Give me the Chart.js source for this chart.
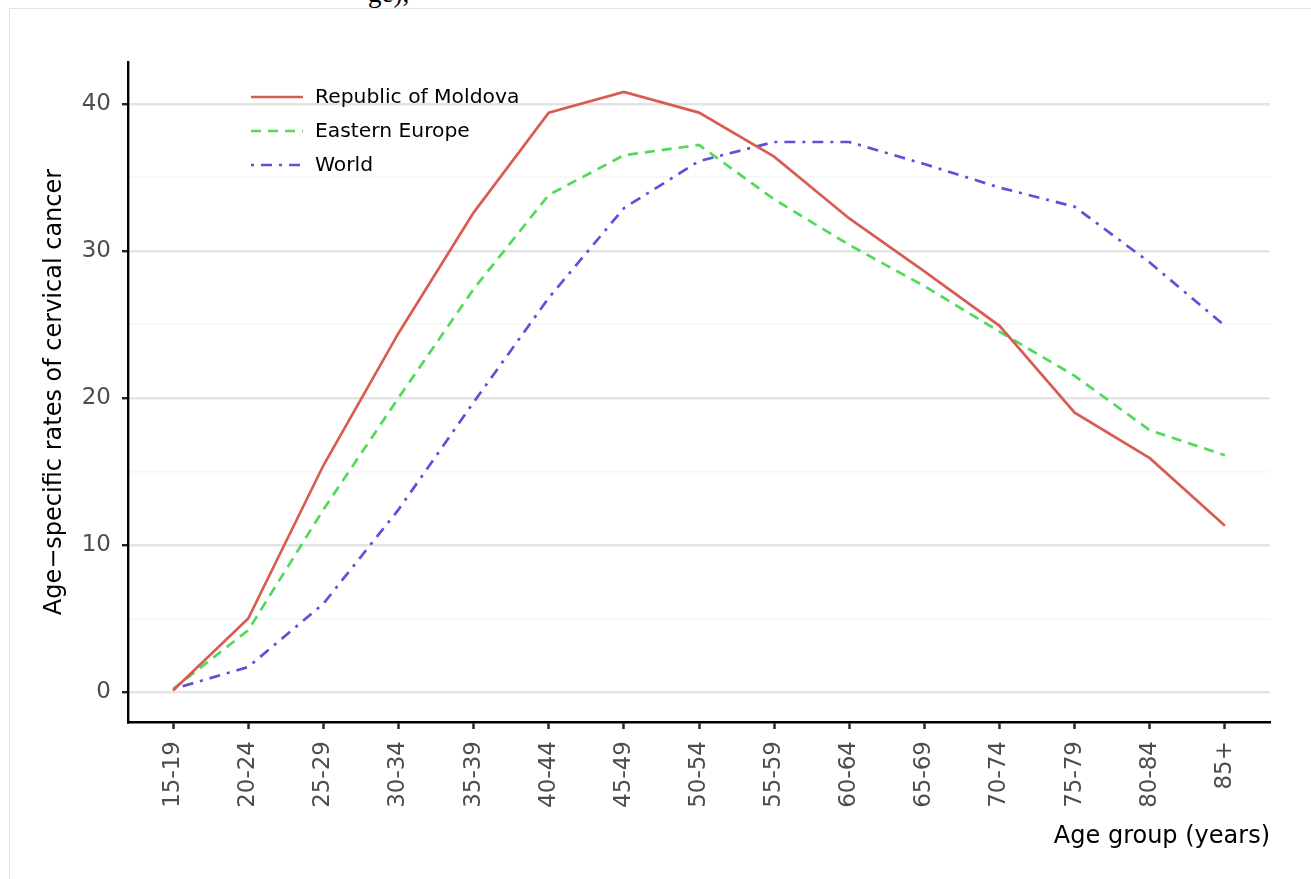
<!DOCTYPE html>
<html>
<head>
<meta charset="utf-8">
<script src="https://cdn.jsdelivr.net/npm/chart.js@4.4.1/dist/chart.umd.min.js"></script>
<style>
  html, body { margin: 0; padding: 0; background: #fff; overflow: hidden; }
  #wrap { position: relative; width: 1311px; height: 879px; overflow: hidden; }
  #frame { position: absolute; left: 9px; top: 8px; width: 1400px; height: 1000px; border: 1px solid #e2e2e2; box-sizing: border-box; }
  #cut { position: absolute; left: 368px; top: -22px; font: 27px "Liberation Serif", serif; color: #000; }
  canvas { position: absolute; left: 0; top: 0; }
</style>
</head>
<body>
<div id="wrap">
  <div id="cut">ge),</div>
  <div id="frame"></div>
  <canvas id="c" width="1311" height="879"></canvas>
</div>
<script>
const categories = ["15-19","20-24","25-29","30-34","35-39","40-44","45-49","50-54","55-59","60-64","65-69","70-74","75-79","80-84","85+"];
const moldova = [0.1, 5.0, 15.4, 24.4, 32.6, 39.4, 40.8, 39.4, 36.4, 32.2, 28.6, 24.9, 19.0, 15.9, 11.3];
const easternEurope = [0.2, 4.2, 12.4, 20.0, 27.4, 33.8, 36.5, 37.2, 33.5, 30.4, 27.6, 24.5, 21.5, 17.8, 16.1];
const world = [0.2, 1.7, 6.0, 12.4, 19.7, 26.8, 32.9, 36.1, 37.4, 37.4, 35.9, 34.3, 33.0, 29.2, 24.9];
const seriesNames = ["Republic of Moldova", "Eastern Europe", "World"];
const yMajorTicks = [0, 10, 20, 30, 40];
const yMinorTicks = [5, 15, 25, 35];

const toXY = arr => arr.map((v, i) => ({ x: i, y: v }));
const FONT = "'DejaVu Sans', sans-serif";

const legendPlugin = {
  id: 'lineLegend',
  afterDatasetsDraw(chart) {
    const ctx = chart.ctx;
    ctx.save();
    chart.data.datasets.forEach((ds, i) => {
      const y = 97 + 34 * i;
      ctx.strokeStyle = ds.borderColor;
      ctx.lineWidth = ds.borderWidth;
      ctx.setLineDash(ds.borderDash || []);
      ctx.beginPath();
      ctx.moveTo(251, y);
      ctx.lineTo(303, y);
      ctx.stroke();
      ctx.setLineDash([]);
      ctx.fillStyle = '#000';
      ctx.font = "20.3px " + FONT;
      ctx.textBaseline = 'middle';
      ctx.textAlign = 'left';
      ctx.fillText(ds.label, 315, y + 1);
    });
    ctx.restore();
  }
};

new Chart(document.getElementById('c'), {
  type: 'line',
  data: {
    datasets: [
      { label: seriesNames[0], data: toXY(moldova), borderColor: '#d95c51', borderWidth: 2.7, borderDash: [], pointRadius: 0, tension: 0 },
      { label: seriesNames[1], data: toXY(easternEurope), borderColor: '#52d95a', borderWidth: 2.7, borderDash: [10, 7], pointRadius: 0, tension: 0 },
      { label: seriesNames[2], data: toXY(world), borderColor: '#5b52d9', borderWidth: 2.7, borderDash: [3, 7, 11, 7], pointRadius: 0, tension: 0 }
    ]
  },
  options: {
    responsive: false,
    animation: false,
    devicePixelRatio: 1,
    layout: { padding: { top: 62, right: 41, left: 0, bottom: 0 } },
    plugins: { legend: { display: false }, tooltip: { enabled: false } },
    scales: {
      x: {
        type: 'linear',
        min: -0.6,
        max: categories.length - 1 + 0.6,
        afterBuildTicks: s => { s.ticks = categories.map((c, i) => ({ value: i })); },
        afterFit: s => { s.height = 879 - 722; },
        ticks: {
          callback: v => categories[v],
          autoSkip: false,
          maxRotation: 90,
          minRotation: 90,
          padding: 12,
          color: '#4d4d4d',
          font: { family: FONT, size: 23 }
        },
        grid: { drawOnChartArea: false, drawTicks: true, tickLength: 7, tickColor: '#222', tickWidth: 2.4 },
        border: { display: true, color: '#000', width: 2.4 },
        title: {
          display: true,
          text: 'Age group (years)',
          align: 'end',
          color: '#000',
          font: { family: FONT, size: 24 },
          padding: { top: 0, bottom: 28 }
        }
      },
      y: {
        type: 'linear',
        min: -2.04,
        max: 42.84,
        afterBuildTicks: s => { s.ticks = yMajorTicks.concat(yMinorTicks).sort((a, b) => a - b).map(v => ({ value: v })); },
        afterFit: s => { s.width = 128; },
        ticks: {
          callback: v => (yMajorTicks.includes(v) ? String(v) : ''),
          padding: 11,
          color: '#4d4d4d',
          font: { family: FONT, size: 23 }
        },
        grid: {
          color: c => (c.tick && yMajorTicks.includes(c.tick.value) ? '#e4e4e4' : '#f7f7f7'),
          lineWidth: c => (c.tick && yMajorTicks.includes(c.tick.value) ? 2.4 : 1.8),
          tickColor: c => (c.tick && yMajorTicks.includes(c.tick.value) ? '#222' : 'rgba(0,0,0,0)'),
          tickWidth: 2.4,
          tickLength: 6
        },
        border: { display: true, color: '#000', width: 2.4 },
        title: {
          display: true,
          text: 'Age\u2212specific rates of cervical cancer',
          color: '#000',
          font: { family: FONT, size: 24 },
          padding: { top: 40, bottom: 0 }
        }
      }
    }
  },
  plugins: [legendPlugin]
});
</script>
</body>
</html>
